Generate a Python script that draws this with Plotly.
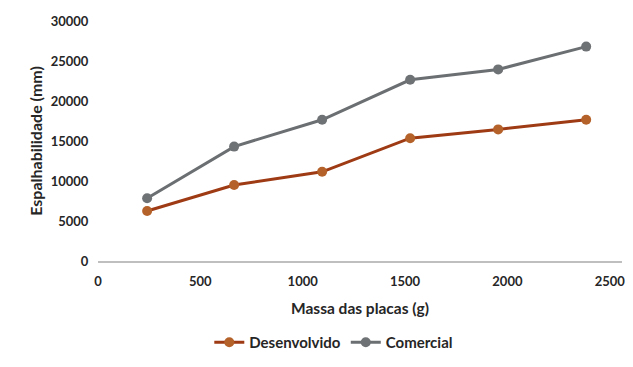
import plotly.graph_objects as go

massa = [240, 665, 1095, 1525, 1955, 2385]
desenvolvido = [6250, 9500, 11150, 15350, 16450, 17650]
comercial = [7850, 14300, 17650, 22650, 23950, 26800]
series_names = ["Desenvolvido", "Comercial"]
x_ticks = [0, 500, 1000, 1500, 2000, 2500]
y_ticks = [0, 5000, 10000, 15000, 20000, 25000, 30000]

FONT = "Lato"
TXT = "#262626"
fig = go.Figure()
fig.add_trace(go.Scatter(
    x=massa, y=desenvolvido, name=series_names[0], mode="lines+markers",
    line=dict(color="#9E3A14", width=3),
    marker=dict(color="#B5622A", size=10, line=dict(width=0)),
))
fig.add_trace(go.Scatter(
    x=massa, y=comercial, name=series_names[1], mode="lines+markers",
    line=dict(color="#6B6F72", width=3),
    marker=dict(color="#6E7275", size=10, line=dict(width=0)),
))

fig.update_layout(
    width=617, height=351,
    margin=dict(l=90, r=0, t=13, b=98),
    paper_bgcolor="white", plot_bgcolor="white",
    font=dict(family=FONT, size=13, color=TXT),
    showlegend=True,
    legend=dict(orientation="h", x=0.45, xanchor="center", xref="paper",
                yref="container", y=0, yanchor="bottom",
                font=dict(family=FONT, size=15, color=TXT, weight="bold")),
    xaxis=dict(
        range=[0, 2560], tickvals=x_ticks, ticktext=[str(v) for v in x_ticks],
        showgrid=False, zeroline=False, ticklabeloverflow="allow",
        showline=True, linecolor="#BFBFBF", linewidth=1.5,
        ticks="outside", ticklen=8, tickcolor="rgba(0,0,0,0)",
        tickfont=dict(family=FONT, size=13, color=TXT, weight="bold"),
        title=dict(text="Massa das placas (g)", standoff=15,
                   font=dict(family=FONT, size=15.5, color=TXT, weight="bold")),
    ),
    yaxis=dict(
        range=[0, 30000], tickvals=y_ticks, ticktext=[str(v) for v in y_ticks],
        showgrid=False, zeroline=False, showline=False,
        ticks="outside", ticklen=6, tickcolor="rgba(0,0,0,0)",
        tickfont=dict(family=FONT, size=13, color=TXT, weight="bold"),
        title=dict(text="Espalhabilidade (mm)", standoff=4,
                   font=dict(family=FONT, size=16, color=TXT, weight="bold")),
    ),
)
fig.write_html("out.html")
